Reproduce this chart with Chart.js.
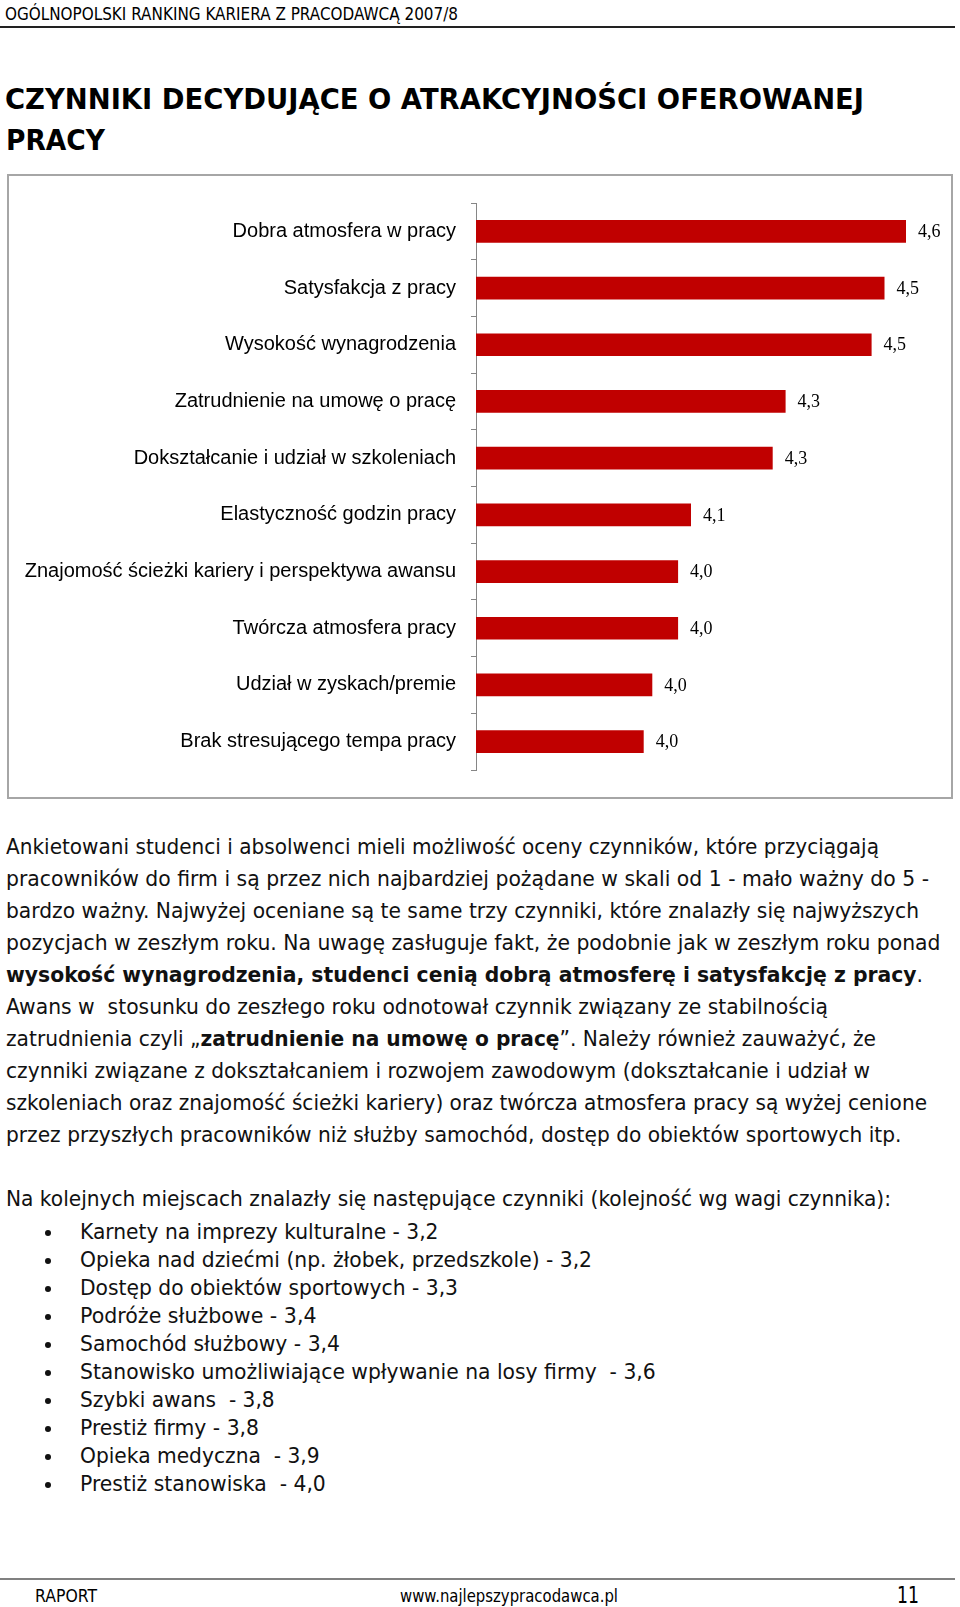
<!DOCTYPE html>
<html lang="pl"><head><meta charset="utf-8">
<script src="https://cdn.jsdelivr.net/npm/chart.js@4/dist/chart.umd.min.js"></script>
<style>
html,body{margin:0;padding:0;background:#fff;}
body{width:960px;height:1607px;position:relative;overflow:hidden;font-family:"DejaVu Sans",Verdana,sans-serif;color:#111;}
.ln{position:absolute;white-space:pre;transform-origin:0 50%;line-height:32px;height:32px;}
.rule{position:absolute;left:0;width:955px;height:2px;}
#box{position:absolute;left:7px;top:174px;width:942px;height:621px;border:2px solid #a6a6a6;}
#wrap{position:absolute;left:0;top:0;width:942px;height:621px;}
.dot{position:absolute;width:6px;height:6px;border-radius:50%;background:#111;}
</style></head><body>
<div class="rule" style="top:26px;background:#222;"></div>
<div id="box"><div id="wrap"><canvas id="c"></canvas></div></div>
<div class="rule" style="top:1578px;background:#808080;"></div>
<script>
// ---- chart data ----
const categories = [
  "Dobra atmosfera w pracy",
  "Satysfakcja z pracy",
  "Wysokość wynagrodzenia",
  "Zatrudnienie na umowę o pracę",
  "Dokształcanie i udział w szkoleniach",
  "Elastyczność godzin pracy",
  "Znajomość ścieżki kariery i perspektywa awansu",
  "Twórcza atmosfera pracy",
  "Udział w zyskach/premie",
  "Brak stresującego tempa pracy"
];
const values = [4.57, 4.52, 4.49, 4.29, 4.26, 4.07, 4.04, 4.04, 3.98, 3.96];
const valueText = values.map(v => v.toFixed(1).replace('.', ','));
const axisMin = 3.57;
const axisMax = 4.65;

// ---- page text ----
const headerText = "OGÓLNOPOLSKI RANKING KARIERA Z PRACODAWCĄ 2007/8";
const titleLines = ["CZYNNIKI DECYDUJĄCE O ATRAKCYJNOŚCI OFEROWANEJ", "PRACY"];
const paragraphLines = [
  "Ankietowani studenci i absolwenci mieli możliwość oceny czynników, które przyciągają",
  "pracowników do firm i są przez nich najbardziej pożądane w skali od 1 - mało ważny do 5 -",
  "bardzo ważny. Najwyżej oceniane są te same trzy czynniki, które znalazły się najwyższych",
  "pozycjach w zeszłym roku. Na uwagę zasługuje fakt, że podobnie jak w zeszłym roku ponad",
  "<b>wysokość wynagrodzenia, studenci cenią dobrą atmosferę i satysfakcję z pracy</b>.",
  "Awans w  stosunku do zeszłego roku odnotował czynnik związany ze stabilnością",
  "zatrudnienia czyli „<b>zatrudnienie na umowę o pracę</b>”. Należy również zauważyć, że",
  "czynniki związane z dokształcaniem i rozwojem zawodowym (dokształcanie i udział w",
  "szkoleniach oraz znajomość ścieżki kariery) oraz twórcza atmosfera pracy są wyżej cenione",
  "przez przyszłych pracowników niż służby samochód, dostęp do obiektów sportowych itp."
];
const introText = "Na kolejnych miejscach znalazły się następujące czynniki (kolejność wg wagi czynnika):";
const bulletItems = [
  "Karnety na imprezy kulturalne - 3,2",
  "Opieka nad dziećmi (np. żłobek, przedszkole) - 3,2",
  "Dostęp do obiektów sportowych - 3,3",
  "Podróże służbowe - 3,4",
  "Samochód służbowy - 3,4",
  "Stanowisko umożliwiające wpływanie na losy firmy  - 3,6",
  "Szybki awans  - 3,8",
  "Prestiż firmy - 3,8",
  "Opieka medyczna  - 3,9",
  "Prestiż stanowiska  - 4,0"
];
const footerLeft = "RAPORT", footerMid = "www.najlepszypracodawca.pl", footerRight = "11";

// layout (positions only)
const paraWidths = [873, 923, 913, 934.5, 917, 822, 870, 864, 921, 895.5];
const bulletWidths = [358.5, 512, 378, 236.5, 260, 575.7, 194.6, 179, 239.6, 245.8];

const fitList = [];
function addLine(html, x, cy, w, style) {
  const d = document.createElement('div');
  d.className = 'ln';
  d.innerHTML = html;
  d.style.left = x + 'px';
  d.style.top = (cy - 16) + 'px';
  if (style) d.style.cssText += style;
  document.body.appendChild(d);
  fitList.push([d, w]);
  return d;
}
addLine(headerText, 5, 14, 453, 'font-size:18px;color:#000;');
addLine('<b>' + titleLines[0] + '</b>', 5, 100, 859, 'font-size:28px;color:#000;');
addLine('<b>' + titleLines[1] + '</b>', 6, 141, 99, 'font-size:28px;color:#000;');
paragraphLines.forEach((t, i) => addLine(t, 6, 847 + 32 * i, paraWidths[i], 'font-size:21px;'));
addLine(introText, 6, 1199, 885, 'font-size:21px;');
bulletItems.forEach((t, i) => {
  const cy = 1231.5 + 28 * i;
  addLine(t, 80, cy, bulletWidths[i], 'font-size:21px;');
  const dot = document.createElement('div');
  dot.className = 'dot';
  dot.style.left = '45px';
  dot.style.top = (cy - 2) + 'px';
  document.body.appendChild(dot);
});
addLine(footerLeft, 35, 1596, 62, 'font-size:17px;color:#000;');
addLine(footerMid, 400, 1596, 218, 'font-size:17px;color:#000;');
addLine(footerRight, 897, 1595, 22, 'font-size:23px;color:#000;');

function fitAll() {
  fitList.forEach(([d, w]) => {
    d.style.transform = 'none';
    const nat = d.getBoundingClientRect().width;
    if (nat > 0) d.style.transform = 'scaleX(' + (w / nat) + ')';
  });
}
fitAll();
if (document.fonts && document.fonts.ready) document.fonts.ready.then(fitAll);

// ---- chart ----
const valueLabels = {
  id: 'valueLabels',
  afterDatasetsDraw(chart) {
    const ctx = chart.ctx;
    const meta = chart.getDatasetMeta(0);
    ctx.save();
    ctx.font = '18px "Liberation Serif", "Times New Roman", serif';
    ctx.fillStyle = '#000';
    ctx.textBaseline = 'middle';
    ctx.textAlign = 'left';
    meta.data.forEach((bar, i) => ctx.fillText(valueText[i], bar.x + 12, bar.y + 1));
    ctx.restore();
  }
};

new Chart(document.getElementById('c'), {
  type: 'bar',
  data: {
    labels: categories,
    datasets: [{
      data: values,
      backgroundColor: '#C00000',
      borderWidth: 0,
      categoryPercentage: 0.4,
      barPercentage: 1.0
    }]
  },
  options: {
    indexAxis: 'y',
    responsive: true,
    maintainAspectRatio: false,
    animation: false,
    devicePixelRatio: 1,
    layout: { padding: { top: 20, bottom: 18, left: 0, right: 10.6 } },
    plugins: { legend: { display: false }, tooltip: { enabled: false } },
    scales: {
      x: { display: false, min: axisMin, max: axisMax },
      y: {
        offset: true,
        grid: { offset: true, drawOnChartArea: false, drawTicks: true, tickLength: 5, color: '#868686' },
        border: { display: true, color: '#868686', width: 1 },
        ticks: {
          autoSkip: false, padding: 15, color: '#000',
          font: { family: '"Liberation Sans", Arial, sans-serif', size: 20 }
        },
        afterFit: (s) => { s.width = 467; }
      }
    }
  },
  plugins: [valueLabels]
});
</script>
</body></html>
